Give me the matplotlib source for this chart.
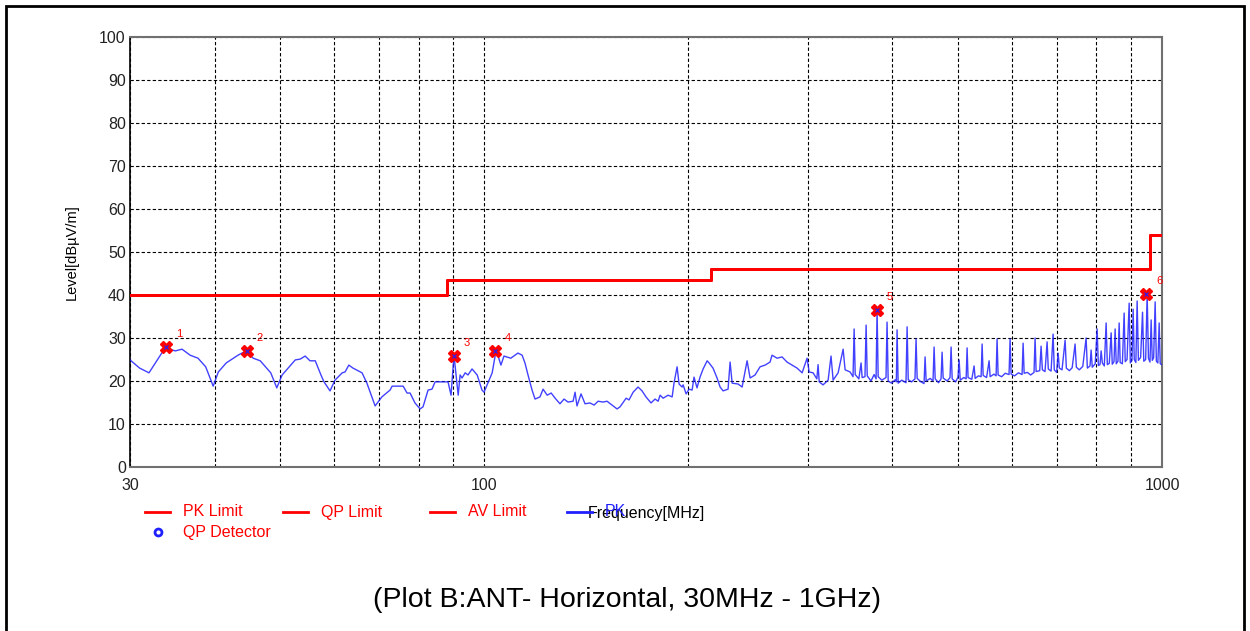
import matplotlib
matplotlib.use("Agg")
from matplotlib import pyplot as plt
from matplotlib.lines import Line2D
from matplotlib.patches import Rectangle

plt.rcParams['font.family'] = ['Liberation Sans', 'DejaVu Sans']

# limit line (same curve for PK / QP / AV limit)
limit_freq = [30, 88, 216, 960, 1000]
limit_level = [40, 43.5, 46, 54, 54]

# measured PK trace
trace_freq = [
    30.0, 31.0, 32.0, 33.8, 35.0, 35.8, 36.8, 37.8, 38.8, 39.8,
    40.5, 41.6, 43.3, 44.5, 45.6, 46.7, 48.4, 49.4, 50.3, 52.6,
    53.5, 54.4, 55.3, 56.3, 57.4, 58.0, 59.2, 60.2, 61.7, 62.3,
    63.1, 64.0, 66.0, 67.1, 69.0, 70.6, 72.6, 73.1, 75.1, 75.9,
    76.9, 77.7, 79.0, 80.4, 81.2, 82.6, 83.7, 84.6, 88.4, 89.3,
    90.2, 91.5, 92.1, 92.7, 93.7, 94.6, 95.9, 97.6, 99.2, 99.9,
    102.7, 104.1, 105.8, 106.9, 109.4, 112.1, 113.7, 114.8, 116.0, 117.6,
    118.8, 120.8, 122.1, 123.8, 125.5, 127.2, 129.3, 131.1, 132.9, 135.2,
    136.1, 137.0, 138.9, 140.8, 143.2, 145.2, 147.2, 149.7, 151.7, 154.3,
    157.0, 158.6, 161.9, 163.5, 165.8, 168.6, 170.9, 173.2, 176.2, 178.6,
    180.5, 181.7, 183.6, 186.7, 189.3, 190.5, 192.5, 193.8, 195.8, 196.5,
    198.5, 200.5, 202.6, 203.9, 206.0, 208.1, 210.3, 213.2, 214.6, 217.5,
    220.5, 222.8, 225.1, 228.9, 230.5, 232.1, 236.8, 240.1, 244.2, 246.7,
    250.9, 255.2, 259.6, 264.0, 265.8, 270.4, 275.0, 279.7, 284.5, 289.4,
    294.4, 299.4, 301.5, 305.6, 309.5, 310.8, 312.0, 316.1, 321.6, 324.8,
    327.1, 332.7, 338.4, 340.7, 346.5, 350.0, 351.3, 352.6, 357.0, 359.7,
    361.0, 364.5, 365.9, 367.3, 372.0, 376.0, 378.5, 379.8, 381.2, 386.0,
    391.5, 392.9, 394.4, 399.0, 404.0, 405.5, 406.5, 408.0, 413.0, 419.0,
    420.6, 422.2, 427.0, 432.0, 433.6, 435.2, 441.0, 445.5, 447.1, 448.7,
    455.0, 459.3, 461.0, 462.7, 468.0, 472.0, 473.7, 475.4, 482.0, 486.6,
    488.4, 490.2, 496.0, 500.0, 501.9, 503.8, 510.0, 514.0, 515.7, 517.4,
    524.0, 528.1, 530.0, 536.0, 540.8, 542.7, 544.6, 551.0, 555.7, 557.7,
    565.0, 569.1, 571.0, 573.0, 580.0, 587.0, 594.7, 596.8, 598.9, 606.0,
    614.0, 621.6, 623.8, 626.0, 633.0, 640.0, 647.4, 649.7, 652.0, 660.0,
    663.1, 666.0, 672.0, 676.8, 679.5, 686.0, 690.7, 693.5, 699.0, 702.6,
    705.5, 712.0, 719.5, 722.5, 730.0, 737.0, 744.3, 747.5, 755.0, 764.0,
    772.7, 776.0, 783.0, 786.0, 789.0, 797.0, 802.2, 805.5, 810.0, 813.2,
    816.5, 822.0, 827.1, 830.5, 836.0, 841.3, 844.5, 849.5, 852.8, 856.0,
    861.0, 864.5, 867.5, 874.0, 879.3, 882.5, 888.0, 894.4, 898.0, 903.0,
    906.6, 910.0, 915.0, 919.0, 923.0, 930.0, 936.0, 940.0, 946.0, 950.8,
    955.0, 960.0, 963.8, 967.5, 972.0, 977.0, 981.0, 986.0, 990.4, 994.0,
    1000.0,
]
trace_level = [
    24.9, 23.0, 21.9, 27.7, 27.0, 27.4, 26.0, 25.3, 23.3, 18.8,
    22.1, 24.2, 26.0, 27.0, 25.3, 24.7, 21.9, 18.4, 21.4, 24.9,
    25.1, 25.8, 24.7, 24.7, 21.4, 19.8, 17.7, 20.2, 21.9, 22.1,
    23.7, 23.0, 21.9, 19.5, 14.2, 16.3, 17.9, 18.8, 18.8, 18.8,
    17.2, 17.2, 14.9, 13.5, 14.0, 17.9, 18.1, 19.8, 19.8, 16.7,
    26.0, 16.7, 21.4, 20.7, 21.9, 21.4, 22.8, 21.4, 17.9, 17.4,
    21.9, 27.2, 23.7, 25.8, 25.3, 26.5, 26.0, 24.2, 21.4, 17.9,
    15.8, 16.3, 18.1, 16.7, 17.2, 16.0, 14.7, 15.8, 15.1, 15.3,
    17.4, 14.2, 17.0, 14.7, 14.9, 14.4, 15.3, 15.1, 15.3, 14.4,
    13.5, 14.0, 16.0, 15.6, 17.4, 18.6, 17.7, 16.3, 14.9, 15.8,
    15.3, 16.7, 16.0, 16.7, 16.3, 19.5, 23.3, 19.3, 18.6, 19.1,
    17.0, 18.1, 17.9, 20.9, 18.4, 20.9, 22.8, 24.7, 24.2, 23.0,
    20.7, 18.6, 17.7, 18.1, 24.4, 19.5, 19.3, 18.6, 24.7, 20.7,
    21.4, 23.3, 23.7, 24.4, 26.0, 25.3, 25.6, 24.4, 23.7, 23.0,
    21.9, 25.3, 22.1, 21.9, 20.5, 23.8, 19.8, 19.1, 20.2, 25.8,
    20.2, 21.9, 27.4, 22.6, 22.1, 21.0, 32.1, 21.5, 20.5, 24.2,
    20.8, 21.0, 33.0, 21.2, 20.0, 21.5, 20.5, 36.5, 21.0, 20.2,
    20.8, 33.7, 20.0, 19.5, 20.3, 19.8, 31.9, 19.5, 20.2, 19.6,
    32.6, 20.3, 19.8, 20.5, 29.8, 20.6, 19.8, 19.4, 25.6, 20.0,
    20.6, 20.0, 27.9, 20.5, 19.6, 20.5, 26.7, 20.7, 20.0, 20.8,
    27.9, 20.5, 19.8, 20.9, 24.9, 20.2, 20.8, 20.5, 27.7, 20.8,
    20.4, 23.5, 20.6, 21.2, 21.0, 28.6, 21.3, 20.8, 24.7, 21.0,
    21.6, 21.2, 29.8, 21.4, 21.0, 21.8, 21.5, 29.8, 21.6, 21.2,
    21.9, 21.5, 28.8, 21.8, 22.0, 21.4, 22.0, 30.0, 22.2, 22.4,
    28.1, 22.6, 22.2, 29.1, 22.8, 22.3, 30.9, 22.6, 22.0, 26.5,
    23.0, 22.6, 29.5, 23.0, 22.4, 23.1, 28.6, 23.2, 22.6, 23.4,
    30.0, 23.0, 23.5, 27.2, 23.2, 24.0, 32.1, 23.6, 23.8, 27.0,
    24.2, 23.5, 33.5, 23.8, 24.1, 31.2, 23.9, 24.5, 32.1, 24.0,
    24.6, 33.5, 24.3, 24.0, 35.8, 24.5, 25.0, 38.1, 24.2, 24.8,
    36.7, 25.0, 24.3, 38.6, 24.8, 25.5, 36.0, 24.6, 25.0, 40.2,
    25.3, 24.4, 34.2, 24.8, 25.4, 38.4, 24.6, 24.2, 33.5, 24.0,
    23.8,
]

# QP markers
marker_freq = [33.9, 44.6, 90.3, 103.6, 380.0, 948.0]
marker_level = [27.9, 27.0, 25.8, 27.0, 36.5, 40.2]
marker_ids = ['1', '2', '3', '4', '5', '6']

W, H = 1250, 631
fig = plt.figure(figsize=(12.5, 6.31), dpi=100)
ax = fig.add_axes([130 / W, 1 - 467 / H, (1162 - 130) / W, (467 - 37) / H])

red = '#ff0000'
blue = '#2020ff'

ax.plot(trace_freq, trace_level, color=blue, lw=1.0, alpha=0.85, zorder=3)
for i in range(3):
    ax.step(limit_freq, limit_level, where='post', color=red, lw=2, zorder=4)

ax.plot(marker_freq, marker_level, 'X', color=red, ms=9, mec=red, zorder=5, ls='none')
ax.plot(marker_freq, marker_level, 'x', color=blue, ms=3, mew=0.8, zorder=6, ls='none')
for f, l, t in zip(marker_freq, marker_level, marker_ids):
    ax.annotate(t, (f, l), xytext=(7, 7), textcoords='offset points',
                color=red, fontsize=8, zorder=6)

ax.set_xscale('log')
ax.set_xlim(30, 1000)
ax.set_ylim(0, 100)
ax.set_xticks([30, 100, 1000])
ax.set_xticklabels(['30', '100', '1000'])
ax.set_xticks([40, 50, 60, 70, 80, 90, 200, 300, 400, 500, 600, 700, 800, 900], minor=True)
ax.xaxis.set_minor_formatter(plt.NullFormatter())
ax.set_yticks(range(0, 101, 10))
ax.tick_params(axis='both', which='both', length=0, labelsize=11.5, colors='#222222')
ax.tick_params(axis='x', pad=8)
ax.tick_params(axis='y', pad=3)

ax.grid(True, which='both', axis='x', color='black', ls=(0, (3, 2)), lw=0.8)
ax.grid(True, which='major', axis='y', color='black', ls=(0, (3, 2)), lw=0.8)
ax.set_axisbelow(True)
for side in ['top', 'right', 'bottom']:
    ax.spines[side].set_color('#707070')
    ax.spines[side].set_linewidth(1.5)
ax.spines['left'].set_color('black')
ax.spines['left'].set_linewidth(1.2)

ax.set_xlabel('Frequency[MHz]', fontsize=11.5, labelpad=9)
ax.set_ylabel('Level[dB\u00b5V/m]', fontsize=10.5, labelpad=15)

# legend drawn by hand to keep the fixed column grid
def legend_entry(x, y, label, color, text_color, kind='line'):
    xf, yf = x / W, 1 - y / H
    if kind == 'line':
        fig.add_artist(Line2D([xf, xf + 25 / W], [yf, yf], color=color, lw=2,
                              transform=fig.transFigure))
    else:
        fig.add_artist(Line2D([xf + 13 / W], [yf], marker='o', mfc='none', mec=color,
                              mew=2, ms=5, ls='none', transform=fig.transFigure))
    fig.text(xf + 38 / W, yf, label, color=text_color, va='center', fontsize=11.5)

legend_entry(145, 512, 'PK Limit', red, red)
legend_entry(283, 512, 'QP Limit', red, red)
legend_entry(430, 512, 'AV Limit', red, red)
legend_entry(567, 512, 'PK', blue, blue)
legend_entry(145, 532, 'QP Detector', blue, red, kind='marker')

fig.text(627 / W, 1 - 600 / H, '(Plot B:ANT- Horizontal, 30MHz - 1GHz)',
         ha='center', va='center', fontsize=20.5)

fig.add_artist(Rectangle((6 / W, -0.02), 1238 / W, 1.02 - 6 / H, fill=False,
                         ec='black', lw=2, transform=fig.transFigure))

fig.savefig('out.png', dpi=100)
